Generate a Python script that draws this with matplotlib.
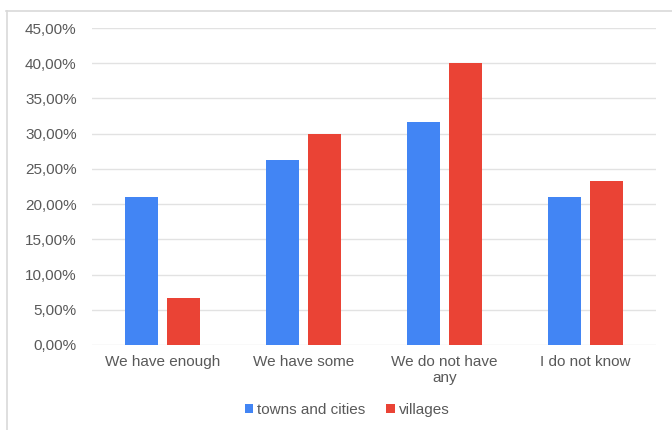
import matplotlib.pyplot as plt
import numpy as np
from matplotlib.lines import Line2D

categories = ['We have enough', 'We have some', 'We do not have\nany', 'I do not know']
towns = [21.05, 26.3, 31.6, 21.05]
villages = [6.67, 30.0, 40.0, 23.3]
series_names = ['towns and cities', 'villages']

plt.rcParams['font.family'] = ['Liberation Sans', 'DejaVu Sans']
txt = '#595959'

fig = plt.figure(figsize=(6.72, 4.30), dpi=100)
ax = fig.add_axes([92 / 672, 1 - 345 / 430, 564 / 672, 317 / 430])

x = np.arange(len(categories))
w = 0.235
gap = 0.057
ax.bar(x - (w + gap) / 2, towns, w, color='#4285F4', label=series_names[0], zorder=3)
ax.bar(x + (w + gap) / 2, villages, w, color='#EA4335', label=series_names[1], zorder=3)

ax.set_xlim(-0.5, len(categories) - 0.5)
ax.set_ylim(0, 45)
yt = np.arange(0, 50, 5)
ax.set_yticks(yt)
ax.set_yticklabels([f'{v:.2f}%'.replace('.', ',') for v in yt])
ax.set_xticks(x)
ax.set_xticklabels(categories, linespacing=1.25)
ax.tick_params(axis='both', length=0, labelsize=11, colors=txt)
ax.tick_params(axis='y', pad=11)
ax.tick_params(axis='x', pad=7)
ax.grid(axis='y', color='#e2e2e2', linewidth=1, zorder=0)
for s in ax.spines.values():
    s.set_visible(False)

leg = fig.legend(loc='center', bbox_to_anchor=(347 / 672, 1 - 410 / 430), ncol=2,
                 frameon=False, fontsize=11, handlelength=0.55, handleheight=0.55,
                 handletextpad=0.25, columnspacing=1.4)
for t in leg.get_texts():
    t.set_color(txt)

# border on top and left edge only
fig.lines.append(Line2D([6 / 672, 1], [1 - 10.5 / 430] * 2, transform=fig.transFigure,
                        color='#d9d9d9', linewidth=1.2))
fig.lines.append(Line2D([6.5 / 672] * 2, [0, 1 - 10.5 / 430], transform=fig.transFigure,
                        color='#d9d9d9', linewidth=1.2))

fig.savefig('out.png')
